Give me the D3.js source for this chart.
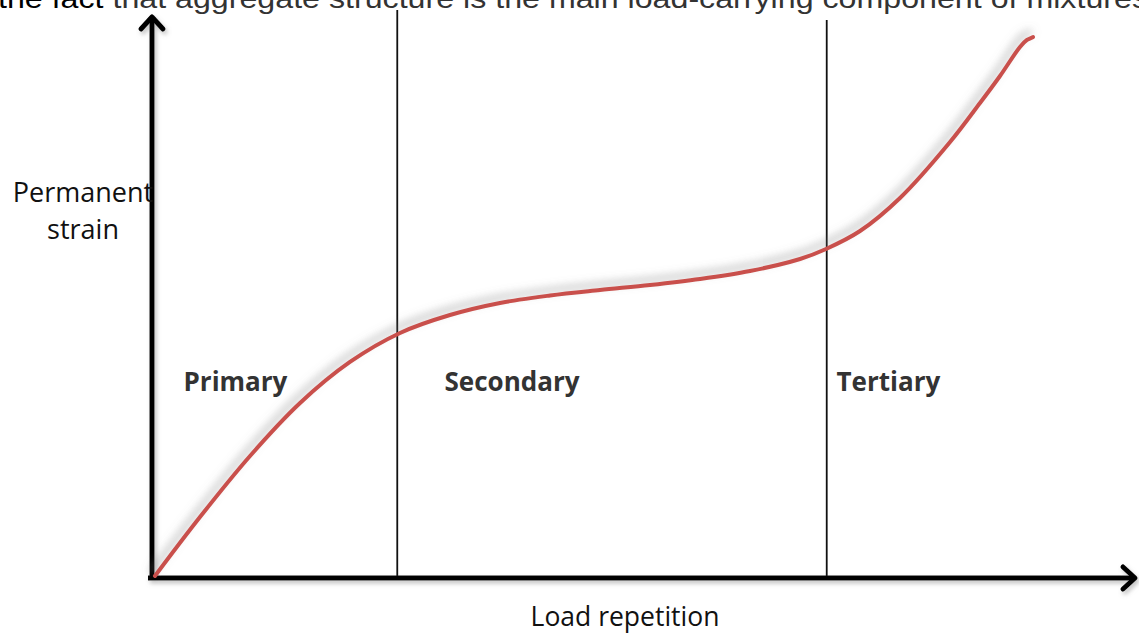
<!DOCTYPE html>
<html>
<head>
<meta charset="utf-8">
<script src="https://cdn.jsdelivr.net/npm/d3@7"></script>
<style>
  html, body { margin: 0; padding: 0; background: #fff; }
  svg { display: block; }
</style>
</head>
<body>
<svg id="chart" width="1139" height="635"></svg>
<script>
/*
* Permanent strain vs load repetition sketch
*/

// curve (load repetition %, permanent strain %)
let loadRepetition = [0.3, 4.87, 9.95, 15.03, 20.10, 25.18, 30.25, 35.33, 40.41, 45.48, 50.56, 55.63, 60.71, 65.79, 68.43, 71.88, 75.94, 81.02, 84.06, 86.09, 88.12, 88.83, 89.44];
let permanentStrain = [0.36, 10.83, 21.67, 31.08, 38.37, 43.52, 46.71, 48.85, 50.18, 51.15, 52.04, 53.11, 54.53, 56.66, 58.44, 61.63, 67.50, 77.44, 84.37, 89.17, 94.32, 95.56, 96.09];

let phaseBoundaries = [24.9, 68.5];
let phaseNames = ['Primary', 'Secondary', 'Tertiary'];
let phaseLabelX = [3.2, 29.7, 69.5];

let headerLead = 'the fact ';
let headerRest = 'that aggregate structure is the main load-carrying component of mixtures';

let COLORS = {
  axis: '#000',
  curve: '#c9504c',
  label: '#333',
  text: '#111'
};

let svg = d3.select('#chart');

let x = d3.scaleLinear().domain([0, 100]).range([152, 1137]);
let y = d3.scaleLinear().domain([0, 100]).range([578, 15]);

let defs = svg.append('defs');

defs.append('filter')
    .attr('id', 'curveShadow')
    .attr('x', '-10%').attr('y', '-20%')
    .attr('width', '120%').attr('height', '140%')
  .append('feDropShadow')
    .attr('dx', -3)
    .attr('dy', -5)
    .attr('stdDeviation', 4)
    .attr('flood-color', '#777')
    .attr('flood-opacity', 0.55);

defs.append('filter')
    .attr('id', 'axisShadow')
    .attr('x', '-10%').attr('y', '-10%')
    .attr('width', '120%').attr('height', '120%')
  .append('feDropShadow')
    .attr('dx', 2)
    .attr('dy', 3)
    .attr('stdDeviation', 2)
    .attr('flood-color', '#888')
    .attr('flood-opacity', 0.5);

// cropped line of text at the very top (cut in the source too)
let header = svg.append('text')
    .attr('x', -2)
    .attr('y', 8)
    .style('font-family', 'Liberation Sans, Arial, sans-serif')
    .style('font-size', '27px')
    .attr('textLength', 1150)
    .attr('lengthAdjust', 'spacingAndGlyphs');
header.append('tspan').attr('fill', '#000').text(headerLead);
header.append('tspan').attr('fill', '#333').text(headerRest);

// phase boundaries
svg.append('g').attr('class', 'boundaries')
  .selectAll('line')
  .data(phaseBoundaries)
  .enter().append('line')
    .attr('x1', d => x(d))
    .attr('x2', d => x(d))
    .attr('y1', (d, i) => i === 0 ? 10 : 20)
    .attr('y2', y(0))
    .style('stroke', '#111')
    .style('stroke-width', 1.8);

// axes with open arrow heads
let axes = svg.append('g').attr('class', 'axes').attr('filter', 'url(#axisShadow)');

axes.append('line')
    .attr('x1', x(0)).attr('x2', x(0))
    .attr('y1', y(0) + 2).attr('y2', y(100) + 2)
    .style('stroke', COLORS.axis)
    .style('stroke-width', 5);

axes.append('line')
    .attr('x1', x(0) - 4).attr('x2', x(100) - 2)
    .attr('y1', y(0)).attr('y2', y(0))
    .style('stroke', COLORS.axis)
    .style('stroke-width', 5);

axes.append('path')
    .attr('d', 'M' + (x(0) - 11) + ',' + (y(100) + 14) + 'L' + x(0) + ',' + (y(100) + 2) + 'L' + (x(0) + 11) + ',' + (y(100) + 14))
    .style('fill', 'none')
    .style('stroke', COLORS.axis)
    .style('stroke-width', 5)
    .style('stroke-linecap', 'round')
    .style('stroke-linejoin', 'round');

axes.append('path')
    .attr('d', 'M' + (x(100) - 14) + ',' + (y(0) - 11) + 'L' + (x(100) - 2) + ',' + y(0) + 'L' + (x(100) - 14) + ',' + (y(0) + 11))
    .style('fill', 'none')
    .style('stroke', COLORS.axis)
    .style('stroke-width', 5)
    .style('stroke-linecap', 'round')
    .style('stroke-linejoin', 'round');

// strain curve
let curveData = loadRepetition.map((d, i) => [d, permanentStrain[i]]);
let line = d3.line()
    .x(d => x(d[0]))
    .y(d => y(d[1]))
    .curve(d3.curveCatmullRom.alpha(0.5));

svg.append('path')
    .datum(curveData)
    .attr('class', 'strain-curve')
    .attr('d', line)
    .attr('filter', 'url(#curveShadow)')
    .style('fill', 'none')
    .style('stroke', COLORS.curve)
    .style('stroke-width', 4)
    .style('stroke-linecap', 'round');

// phase labels
svg.append('g').attr('class', 'phase-labels')
  .selectAll('text')
  .data(phaseNames)
  .enter().append('text')
    .attr('x', (d, i) => x(phaseLabelX[i]))
    .attr('y', 391)
    .style('font-family', 'Open Sans, sans-serif')
    .style('font-weight', 'bold')
    .style('font-size', '26px')
    .style('fill', COLORS.label)
    .text(d => d);

// axis titles
let yTitle = svg.append('text')
    .attr('text-anchor', 'middle')
    .style('font-family', 'Open Sans, sans-serif')
    .style('font-size', '27px')
    .style('fill', COLORS.text);
yTitle.append('tspan').attr('x', 83).attr('y', 202).text('Permanent');
yTitle.append('tspan').attr('x', 83).attr('y', 239).text('strain');

svg.append('text')
    .attr('x', 625)
    .attr('y', 626)
    .attr('text-anchor', 'middle')
    .style('font-family', 'Open Sans, sans-serif')
    .style('font-size', '26.5px')
    .style('fill', COLORS.text)
    .text('Load repetition');
</script>
</body>
</html>
